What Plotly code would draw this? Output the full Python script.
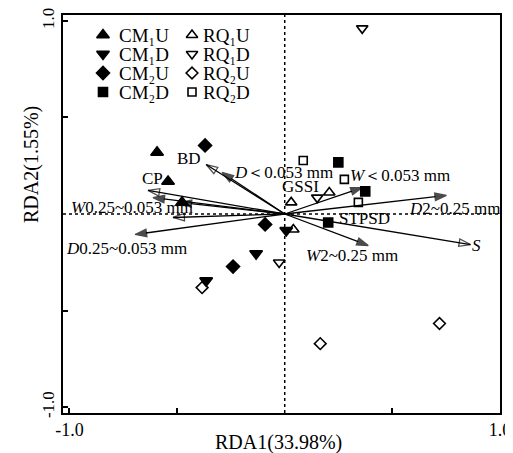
import plotly.graph_objects as go

# ---------------- data ----------------
# sample scores (RDA1, RDA2)
cm1u_x = [-0.593, -0.542, -0.477]
cm1u_y = [0.319, 0.168, 0.060]
cm1d_x = [-0.365, -0.133, 0.007]
cm1d_y = [-0.345, -0.205, -0.085]
cm2u_x = [-0.370, -0.091, -0.240]
cm2u_y = [0.355, -0.054, -0.272]
cm2d_x = [0.249, 0.374, 0.202]
cm2d_y = [0.267, 0.117, -0.044]
rq1u_x = [0.030, 0.040, 0.207]
rq1u_y = [0.060, -0.080, 0.111]
rq1d_x = [0.360, 0.151, -0.026]
rq1d_y = [0.961, 0.085, -0.251]
rq2u_x = [-0.384, 0.165, 0.719]
rq2u_y = [-0.381, -0.671, -0.567]
rq2d_x = [0.086, 0.277, 0.342]
rq2d_y = [0.277, 0.179, 0.060]

# environmental arrows (tip coordinates)
arrow_names = ["BD", "CP", "GSSI", "S", "D<0.053", "W0.25~0.053", "STPSD",
               "D0.25~0.053", "W<0.053", "D2~0.25", "W2~0.25"]
arrow_x = [-0.365, -0.635, -0.519, 0.863, -0.291, -0.486, -0.612,
           -0.695, 0.360, 0.751, 0.388]
arrow_y = [0.256, 0.122, -0.018, -0.158, 0.215, 0.060, 0.085,
           -0.106, 0.137, 0.096, -0.163]
arrow_open = [True, True, True, True, False, False, False,
              False, False, False, False]

# text labels
label_text = ["BD", "CP", "<i>D</i>＜0.053 mm", "GSSI", "<i>W</i>＜0.053 mm",
              "<i>D</i>2~0.25 mm", "STPSD", "<i>S</i>", "<i>W</i>2~0.25 mm",
              "<i>W</i>0.25~0.053 mm", "<i>D</i>0.25~0.053 mm"]
label_x = [-0.444, -0.616, -0.007, 0.072, 0.537, 0.788, 0.370, 0.891, 0.314,
           -0.709, -0.737]
label_y = [0.288, 0.184, 0.215, 0.142, 0.199, 0.028, -0.023, -0.163, -0.215,
           0.034, -0.179]

x_ticks = [-1, -0.5, 0.5, 1]
x_ticktext = ["-1.0", "", "", "1.0"]
y_ticks = [-1, -0.5, 0.5, 1]
y_ticktext = ["-1.0", "", "", "1.0"]

FONT = "Liberation Serif"

# page offset (default body margin of the html page)
OFF = 8
W, H = 513 - OFF, 453 - OFF
# plot area in page pixels
L, R, T, B = 63, 500, 15, 413


def px_to_paper(px, py):
    return (px - L) / (R - L), (B - py) / (B - T)


fig = go.Figure()

# arrows
for name, ax, ay, op in zip(arrow_names, arrow_x, arrow_y, arrow_open):
    fig.add_trace(go.Scatter(
        x=[0, ax], y=[0, ay], mode="lines+markers", showlegend=False,
        line=dict(color="black", width=1.3),
        marker=dict(symbol="arrow-open" if op else "arrow", size=[0, 12],
                    angleref="previous", color="black",
                    line=dict(color="black", width=1.3)),
        hoverinfo="skip", name=name))

groups = [
    ("CM₁U", cm1u_x, cm1u_y, "triangle-up", 11),
    ("CM₁D", cm1d_x, cm1d_y, "triangle-down", 11),
    ("CM₂U", cm2u_x, cm2u_y, "diamond", 10),
    ("CM₂D", cm2d_x, cm2d_y, "square", 9),
    ("RQ₁U", rq1u_x, rq1u_y, "triangle-up-open", 10),
    ("RQ₁D", rq1d_x, rq1d_y, "triangle-down-open", 10),
    ("RQ₂U", rq2u_x, rq2u_y, "diamond-open", 9),
    ("RQ₂D", rq2d_x, rq2d_y, "square-open", 8),
]
for name, gx, gy, sym, sz in groups:
    fig.add_trace(go.Scatter(
        x=gx, y=gy, mode="markers", name=name, showlegend=False,
        marker=dict(symbol=sym, size=sz, color="black",
                    line=dict(color="black", width=1.6))))

# manual legend (page-pixel overlay axes)
leg_rows = [35, 54, 73, 92]
leg_cols = [(103, 117), (192, 201)]
for i, (name, gx, gy, sym, sz) in enumerate(groups):
    col, row = divmod(i, 4)
    sx, tx = leg_cols[col]
    fig.add_trace(go.Scatter(
        x=[sx], y=[leg_rows[row]], xaxis="x2", yaxis="y2", mode="markers",
        showlegend=False, hoverinfo="skip",
        marker=dict(symbol=sym, size=sz, color="black",
                    line=dict(color="black", width=1.6))))
    fig.add_annotation(x=tx, y=leg_rows[row], xref="x2", yref="y2", text=name,
                       showarrow=False, xanchor="left", yanchor="middle",
                       font=dict(family=FONT, size=19, color="black"))

for t, lx, ly in zip(label_text, label_x, label_y):
    fig.add_annotation(x=lx, y=ly, text=t, showarrow=False,
                       font=dict(family=FONT, size=17, color="black"))

# dotted zero lines
fig.add_shape(type="line", x0=0, x1=0, y0=-1.03, y1=1.03, layer="below",
              line=dict(color="black", width=1.5, dash="dot"))
fig.add_shape(type="line", x0=-1.03, x1=1.0, y0=0, y1=0, layer="below",
              line=dict(color="black", width=1.5, dash="dot"))

# axis titles
tx_, ty_ = px_to_paper(278, 442)
fig.add_annotation(xref="paper", yref="paper", x=tx_, y=ty_,
                   text="RDA1(33.98%)", showarrow=False,
                   xanchor="center", yanchor="middle",
                   font=dict(family=FONT, size=20, color="black"))
tx_, ty_ = px_to_paper(31, 165)
fig.add_annotation(xref="paper", yref="paper", x=tx_, y=ty_,
                   text="RDA2(1.55%)", showarrow=False, textangle=-90,
                   xanchor="center", yanchor="middle",
                   font=dict(family=FONT, size=20, color="black"))

axis_common = dict(showline=True, mirror=True, linecolor="black", linewidth=1.5,
                   ticks="inside", ticklen=5, tickcolor="black", tickwidth=1.5,
                   showgrid=False, zeroline=False, automargin=False,
                   ticklabeloverflow="allow")

fig.update_layout(
    width=W, height=H,
    margin=dict(l=L - OFF, r=513 - R, t=T - OFF, b=453 - B),
    plot_bgcolor="white", paper_bgcolor="white",
    font=dict(family=FONT, color="black"),
    showlegend=False,
    xaxis=dict(range=[-1.03, 1.0], tickvals=x_ticks, ticktext=x_ticktext,
               tickfont=dict(family=FONT, size=18, color="black"), **axis_common),
    yaxis=dict(range=[-1.03, 1.03], tickvals=y_ticks, ticktext=y_ticktext,
               tickangle=-90, tickfont=dict(family=FONT, size=17, color="black"),
               **axis_common),
    xaxis2=dict(overlaying="x", range=[L, R], visible=False, fixedrange=True),
    yaxis2=dict(overlaying="y", range=[B, T], visible=False, fixedrange=True),
)

fig.write_html("out.html")
